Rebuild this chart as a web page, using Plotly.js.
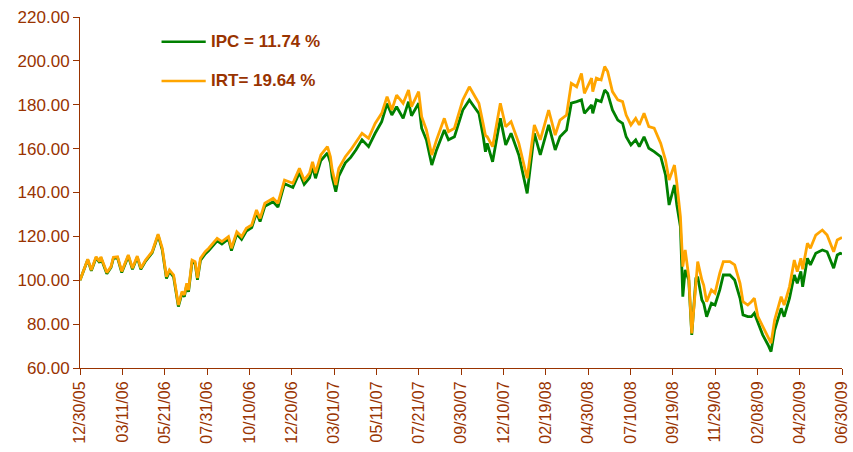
<!DOCTYPE html>
<html>
<head>
<meta charset="utf-8">
<script src="https://cdn.plot.ly/plotly-3.0.1.min.js"></script>
<style>html,body{margin:0;padding:0;background:#fff;}#chart{width:853px;height:452px;}</style>
</head>
<body>
<div id="chart"></div>
<script>
var dates = [
"2005-12-30","2006-01-12","2006-01-18","2006-01-26","2006-02-01","2006-02-03","2006-02-13","2006-02-20","2006-02-24","2006-03-03",
"2006-03-10","2006-03-21","2006-03-28","2006-04-05","2006-04-11","2006-04-19","2006-04-30","2006-05-10","2006-05-17","2006-05-24",
"2006-05-29","2006-06-05","2006-06-13","2006-06-19","2006-06-23","2006-06-27","2006-06-30","2006-07-06","2006-07-11","2006-07-15",
"2006-07-20","2006-07-28","2006-08-03","2006-08-17","2006-08-25","2006-09-05","2006-09-10","2006-09-19","2006-09-27","2006-10-05",
"2006-10-14","2006-10-22","2006-10-28","2006-11-05","2006-11-19","2006-11-27","2006-12-08","2006-12-16","2006-12-22","2007-01-02",
"2007-01-10","2007-01-19","2007-01-24","2007-01-29","2007-02-07","2007-02-18","2007-02-23","2007-02-26","2007-03-04","2007-03-09",
"2007-03-20","2007-03-29","2007-04-07","2007-04-17","2007-04-28","2007-05-09","2007-05-20","2007-05-29","2007-06-06","2007-06-14",
"2007-06-25","2007-07-04","2007-07-09","2007-07-21","2007-07-26","2007-08-03","2007-08-12","2007-08-20","2007-09-02","2007-09-09",
"2007-09-19","2007-10-03","2007-10-14","2007-10-22","2007-10-30","2007-11-06","2007-11-10","2007-11-13","2007-11-22","2007-12-05",
"2007-12-14","2007-12-23","2008-01-05","2008-01-19","2008-01-27","2008-01-31","2008-02-10","2008-02-24","2008-03-06","2008-03-14",
"2008-03-25","2008-04-02","2008-04-11","2008-04-19","2008-04-24","2008-05-06","2008-05-08","2008-05-14","2008-05-22","2008-05-28",
"2008-06-02","2008-06-10","2008-06-19","2008-06-27","2008-07-03","2008-07-11","2008-07-19","2008-07-25","2008-08-02","2008-08-10",
"2008-08-19","2008-08-30","2008-09-07","2008-09-13","2008-09-22","2008-09-26","2008-10-02","2008-10-06","2008-10-10","2008-10-16",
"2008-10-21","2008-10-28","2008-10-31","2008-11-07","2008-11-10","2008-11-15","2008-11-23","2008-11-29","2008-12-07","2008-12-13",
"2008-12-24","2009-01-01","2009-01-10","2009-01-15","2009-01-23","2009-01-29","2009-02-03","2009-02-09","2009-02-17","2009-02-26",
"2009-03-03","2009-03-09","2009-03-20","2009-03-25","2009-04-03","2009-04-11","2009-04-16","2009-04-22","2009-04-25","2009-05-03",
"2009-05-08","2009-05-17","2009-05-28","2009-06-05","2009-06-16","2009-06-22","2009-06-27","2009-06-30"
];
var ipc = [
100,109.3,104.3,110.3,108,110.3,103,105.8,110,110.2,
103.5,111,105,110.5,105,108.7,112.5,120.5,113.8,100.8,
104,101.5,88,94,92.5,97.8,94.7,108.3,107.7,100.2,
109,112,113.5,118,116.5,118.8,113.5,121,118.6,122.4,
124,130.7,126.8,133.7,135.8,133.3,144,143,142.3,149,
143.7,146.7,151.8,146.5,154.6,158,153.5,147,140.4,147.5,
153.5,156,159.5,164,160.9,167,172.3,180.5,175.3,179.1,
173.8,181.4,175,180.7,169.3,164,152.5,159.4,168.5,164,
165.4,177.6,182.2,179.1,176.1,166,158.6,162.4,154,173.8,
161.7,167,157.1,139.6,156.3,167,157.1,170.8,159.4,165.4,
168.5,180.7,181.4,182.2,176.1,179.9,176.1,182.2,181.4,186.7,
185.2,177.6,173,171.5,165.4,161.7,164,160.9,165.4,160.2,
158.6,156.3,148,134.3,143.4,134.3,124.4,92.5,104.7,100.1,
75.1,100.9,101.6,91,89.5,83.4,89.5,88.7,95.6,102.4,
102.4,100.1,91.8,84.2,83.4,83.4,85,80.4,75.1,70.5,
67.5,77.3,87.2,83.4,91.8,102.4,98.6,104,97,110,
107,112.3,113.8,113,105.5,111.5,112.3,112
];
var irt = [
100,109.6,104.7,110.7,108.5,110.7,103.5,106.2,110.5,110.7,
104,111.5,105.5,111,105.5,109.2,113,121,114.6,101.6,
104.7,102.4,88.7,94.8,93.3,98.6,95.5,109.2,108.5,101,
110,113,114.6,119.1,117.6,119.9,114.6,122.1,119.9,123.7,
125.2,132,128.2,135.1,137.4,135.1,145.7,144.9,144.2,151,
145.7,148.8,154,148.8,157.1,160.9,156.3,150.3,143.4,151,
156.3,159.4,163,167,164.7,171.5,176.1,183.7,177.6,184.4,
180.7,186.7,179.1,186,174.6,168.5,157.1,164,173.8,167.7,
169.3,182.2,188.2,184.4,180.7,171.5,166,165.4,160.9,180.7,
170,172.3,162.4,146.5,162.4,170.8,164,177.6,166.2,173,
175.3,189.8,188.2,194.3,185.2,192.1,186,192.1,191.3,197.4,
195.1,186,182.2,181.4,175.3,170.8,173.8,170.8,176.1,170,
169.3,162.4,154.8,145.7,152.5,144.2,129,106.2,113.8,101.6,
75.8,101.6,108.5,100.1,97.8,90.2,95.6,94.1,103.2,108.5,
108.5,107,98.6,90.2,88.7,90.2,91.8,83.4,78.8,74.3,
71.3,81.9,92.5,88.7,97.1,109.2,103.9,110,105,116.9,
114.6,120.6,122.9,120.6,113,118.4,119.1,119.5
];
var seriesNames = ["IPC = 11.74 %", "IRT= 19.64 %"];
var xTickDates = [
"2005-12-30","2006-03-11","2006-05-21","2006-07-31","2006-10-10","2006-12-20","2007-03-01",
"2007-05-11","2007-07-21","2007-09-30","2007-12-10","2008-02-19","2008-04-30","2008-07-10",
"2008-09-19","2008-11-29","2009-02-08","2009-04-20","2009-06-30"
];
var xTickLabels = [
"12/30/05","03/11/06","05/21/06","07/31/06","10/10/06","12/20/06","03/01/07",
"05/11/07","07/21/07","09/30/07","12/10/07","02/19/08","04/30/08","07/10/08",
"09/19/08","11/29/08","02/08/09","04/20/09","06/30/09"
];
var yTicks = [60,80,100,120,140,160,180,200,220];
var yTickLabels = ["60.00","80.00","100.00","120.00","140.00","160.00","180.00","200.00","220.00"];

var brown = "#993300";
var font = "Arial, 'Liberation Sans', sans-serif";

var traces = [
  {x: dates, y: ipc, type: "scatter", mode: "lines", name: seriesNames[0],
   line: {color: "#008000", width: 2.8}, showlegend: false, hoverinfo: "x+y"},
  {x: dates, y: irt, type: "scatter", mode: "lines", name: seriesNames[1],
   line: {color: "#FFA500", width: 2.8}, showlegend: false, hoverinfo: "x+y"}
];

var layout = {
  width: 853, height: 452,
  margin: {l: 80, r: 11, t: 17, b: 84, pad: 0},
  paper_bgcolor: "#fff", plot_bgcolor: "#fff",
  font: {family: font, size: 17, color: brown},
  showlegend: false,
  xaxis: {
    type: "date",
    range: ["2005-12-30", "2009-06-30"],
    tickmode: "array", tickvals: xTickDates, ticktext: xTickLabels,
    tickangle: -90, ticklabeloverflow: "allow",
    showgrid: false, zeroline: false,
    showline: true, linecolor: brown, linewidth: 1,
    ticks: "outside", ticklen: 6, tickcolor: brown, tickwidth: 1,
    tickfont: {family: font, size: 16, color: brown}
  },
  yaxis: {
    range: [60, 220],
    tickmode: "array", tickvals: yTicks, ticktext: yTickLabels,
    showgrid: false, zeroline: false,
    showline: true, linecolor: brown, linewidth: 1,
    ticks: "outside", ticklen: 6, tickcolor: brown, tickwidth: 1,
    tickfont: {family: font, size: 17, color: brown}
  },
  shapes: [
    {type: "line", xref: "paper", yref: "paper", x0: 0.107, x1: 0.165, y0: 0.9296, y1: 0.9296,
     line: {color: "#008000", width: 2.5}},
    {type: "line", xref: "paper", yref: "paper", x0: 0.107, x1: 0.165, y0: 0.8177, y1: 0.8177,
     line: {color: "#FFA500", width: 2.5}}
  ],
  annotations: [
    {xref: "paper", yref: "paper", x: 0.169, y: 0.9296, xanchor: "left", yanchor: "middle",
     text: "<b>" + seriesNames[0] + "</b>", showarrow: false,
     font: {family: font, size: 17, color: brown}},
    {xref: "paper", yref: "paper", x: 0.169, y: 0.8177, xanchor: "left", yanchor: "middle",
     text: "<b>" + seriesNames[1] + "</b>", showarrow: false,
     font: {family: font, size: 17, color: brown}}
  ]
};

Plotly.newPlot("chart", traces, layout, {displayModeBar: false, staticPlot: true});
</script>
</body>
</html>
